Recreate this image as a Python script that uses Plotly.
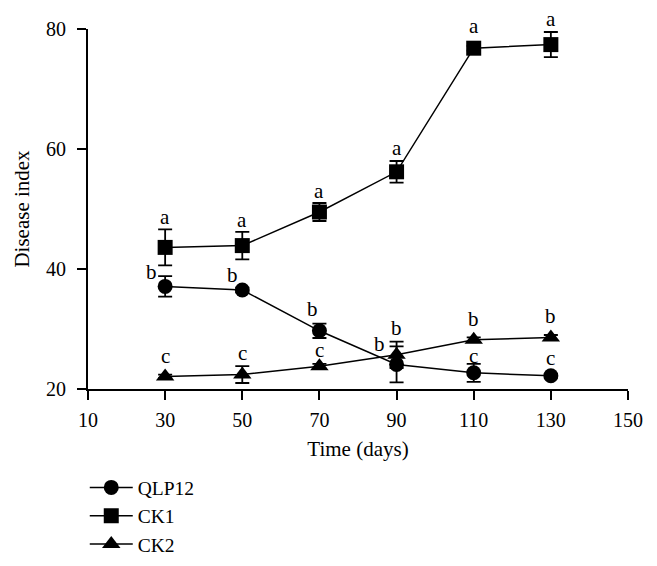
import plotly.graph_objects as go

# Sampling days
days = [30, 50, 70, 90, 110, 130]

# Disease index (mean) and error for each treatment
qlp12 = [37.1, 36.5, 29.7, 24.1, 22.7, 22.2]
qlp12_err = [1.7, 0.4, 1.2, 3.0, 1.5, 0.3]
ck1 = [43.6, 43.9, 49.5, 56.2, 76.8, 77.4]
ck1_err = [3.0, 2.3, 1.5, 1.8, 0.4, 2.1]
ck2 = [22.1, 22.4, 23.8, 25.7, 28.2, 28.6]
ck2_err = [0.3, 1.4, 0.4, 2.2, 0.4, 0.4]

# Significance letters
qlp12_letters = ["b", "b", "b", "b", "c", "c"]
ck1_letters = ["a", "a", "a", "a", "a", "a"]
ck2_letters = ["c", "c", "c", "b", "b", "b"]

FONT = "Liberation Serif"

# pixel offsets of the letters from each marker (layout only)
qlp12_shift = [(-14, 14), (-10, 15), (-7, 22), (-17, 20), (0, 17), (0, 18)]
ck1_shift = [(0, 30), (0, 26), (0, 21), (0, 24), (0, 22), (0, 26)]
ck2_shift = [(0, 20), (0, 22), (0, 16), (0, 27), (0, 21), (0, 21)]

series = [
    ("QLP12", qlp12, qlp12_err, "circle", 15, qlp12_letters, qlp12_shift),
    ("CK1", ck1, ck1_err, "square", 15, ck1_letters, ck1_shift),
    ("CK2", ck2, ck2_err, "triangle-up", 16, ck2_letters, ck2_shift),
]

fig = go.Figure()
annotations = []
for name, vals, errs, symbol, size, letters, shifts in series:
    fig.add_trace(go.Scatter(
        x=days, y=vals, name=name,
        mode="lines+markers",
        line=dict(color="black", width=1.5),
        marker=dict(symbol=symbol, size=size, color="black"),
        error_y=dict(type="data", array=errs, visible=True,
                     color="black", thickness=1.8, width=7),
    ))
    for xv, yv, lab, (dx, dy) in zip(days, vals, letters, shifts):
        annotations.append(dict(
            x=xv, y=yv, text=lab, showarrow=False,
            xshift=dx, yshift=dy, yanchor="middle",
            font=dict(family=FONT, size=21, color="black"),
        ))

title_font = dict(family=FONT, size=21, color="black")

fig.update_layout(
    width=657, height=566,
    margin=dict(l=88, r=29, t=29, b=177, autoexpand=False),
    plot_bgcolor="white", paper_bgcolor="white",
    font=dict(family=FONT, size=20, color="black"),
    showlegend=True,
    legend=dict(x=-0.006, y=-0.22, xanchor="left", yanchor="top",
                font=dict(family=FONT, size=19.5, color="black"),
                tracegroupgap=0, itemwidth=43),
    annotations=annotations,
    xaxis=dict(
        range=[10, 150], tickvals=[10, 30, 50, 70, 90, 110, 130, 150],
        showline=True, linecolor="black", linewidth=2,
        ticks="outside", ticklen=9, tickwidth=2, tickcolor="black",
        ticklabelstandoff=3,
        showgrid=False, zeroline=False,
        title=dict(text="Time (days)", standoff=11, font=title_font),
    ),
    yaxis=dict(
        range=[20, 80], tickvals=[20, 40, 60, 80],
        showline=True, linecolor="black", linewidth=2,
        ticks="outside", ticklen=9, tickwidth=2, tickcolor="black",
        ticklabelstandoff=7,
        showgrid=False, zeroline=False,
        title=dict(text="Disease index", standoff=11, font=title_font),
    ),
)

# drop the default page margin so the figure sits at the window corner
fig.write_html("out.html", config={"displayModeBar": False},
               post_script="document.body.style.margin='0px';")
